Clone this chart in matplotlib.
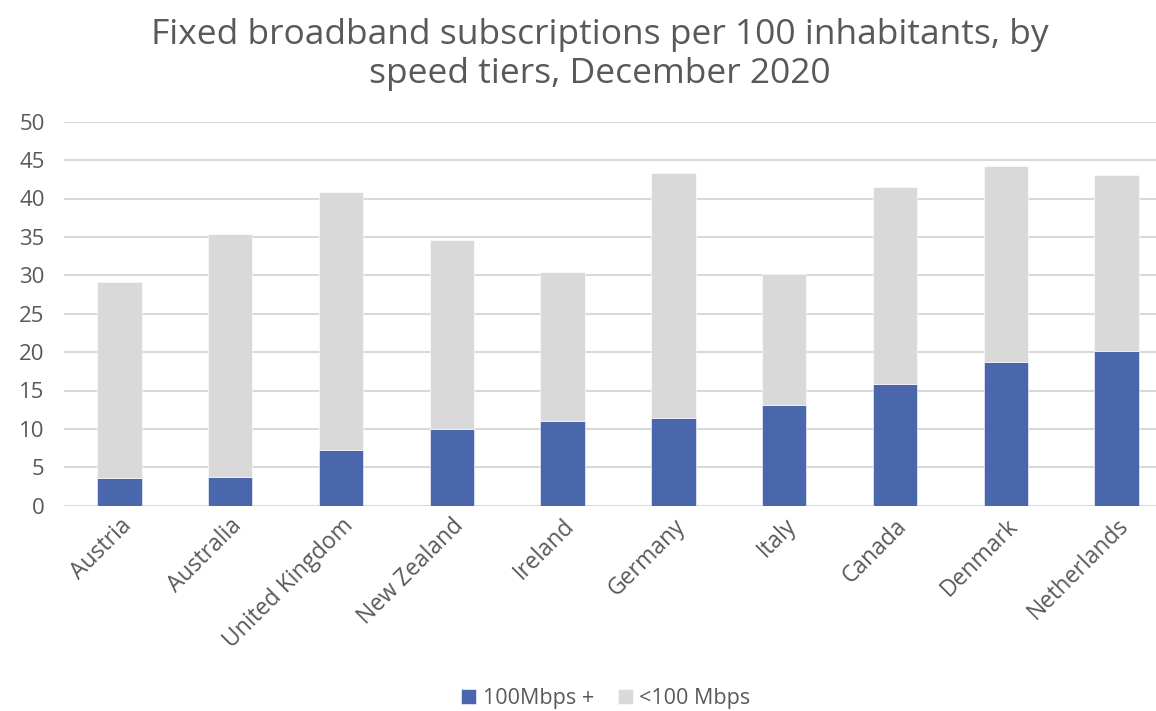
import matplotlib
matplotlib.use("Agg")
import matplotlib.pyplot as plt
import numpy as np

countries = ["Austria", "Australia", "United Kingdom", "New Zealand", "Ireland",
             "Germany", "Italy", "Canada", "Denmark", "Netherlands"]
fast = [3.66, 3.79, 7.28, 9.98, 10.99, 11.46, 13.08, 15.91, 18.66, 20.10]
total = [29.16, 35.35, 40.89, 34.61, 30.43, 43.37, 30.17, 41.50, 44.20, 43.11]
slow = [t - f for t, f in zip(total, fast)]
yticks = list(range(0, 51, 5))

plt.rcParams['font.family'] = ['Open Sans', 'DejaVu Sans']
TXT = '#595959'

fig = plt.figure(figsize=(11.56, 7.11), dpi=100)
ax = fig.add_axes([64/1156, 205.3/711, 1108/1156, 384/711])
x = np.arange(len(countries))
w = 0.40
ax.bar(x, fast, w, color='#4a66ac', edgecolor='white', linewidth=0.4, label='100Mbps +', zorder=3)
ax.bar(x, slow, w, bottom=fast, color='#d9d9d9', edgecolor='white', linewidth=0.4, label='<100 Mbps', zorder=3)

ax.set_xlim(-0.5, len(countries) - 0.5)
ax.set_ylim(0, 50)
ax.set_yticks(yticks)
ax.set_yticklabels([str(v) for v in yticks], fontsize=16, color=TXT)
ax.grid(axis='y', color='#d9d9d9', linewidth=1.5, zorder=0)
ax.set_axisbelow(True)
for s in ax.spines.values():
    s.set_visible(False)
ax.tick_params(axis='y', length=0, pad=14)
ax.tick_params(axis='x', length=0, pad=6)
ax.set_xticks(x)
ax.set_xticklabels(countries, rotation=45, ha='right', rotation_mode='anchor',
                   fontsize=16.5, color=TXT)

fig.text(0.519, 0.975, "Fixed broadband subscriptions per 100 inhabitants, by\nspeed tiers, December 2020",
         ha='center', va='top', fontsize=25.5, color=TXT, linespacing=1.22)

leg = fig.legend(loc='center', bbox_to_anchor=(0.524, 0.017), ncol=2, frameon=False,
                 fontsize=15.5, handlelength=0.7, handleheight=0.7, columnspacing=1.1,
                 handletextpad=0.3)
for t in leg.get_texts():
    t.set_color(TXT)

fig.savefig("out.png", dpi=100)
